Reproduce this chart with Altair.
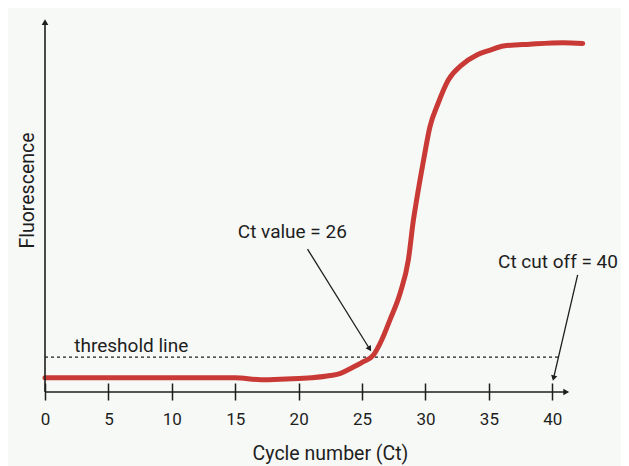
import math
import altair as alt
import pandas as pd

# ---- data ----
cycle = [0, 4, 8, 12, 15, 17, 19, 21, 22.5, 23.3, 24.05, 25.1, 25.9, 26.55, 27.2,
         28.0, 28.65, 29.05, 29.3, 29.85, 30.35, 31.0, 31.8, 32.85, 34.05, 35.1,
         36.15, 38.25, 40.85, 42.4]
fluor = [3.8, 3.8, 3.8, 3.8, 3.8, 3.3, 3.5, 3.8, 4.4, 5.0, 6.2, 8.1, 9.9, 13.9, 19.3,
         26.4, 35.3, 46.0, 51.3, 62.0, 70.9, 77.2, 83.4, 87.4, 90.1, 91.4,
         92.5, 93.0, 93.4, 93.2]
tick_values = [0, 5, 10, 15, 20, 25, 30, 35, 40]
threshold = 9.3

labels = ["Ct value = 26", "Ct cut off = 40", "threshold line"]
label_x = [19.5, 40.45, 6.8]
label_y = [42.8, 34.8, 12.3]

arrow_x1 = [20.7, 42.0]
arrow_y1 = [38.2, 31.3]
arrow_x2 = [25.6, 40.1]
arrow_y2 = [11.5, 3.7]

X_MAX = 42.5
Y_MAX = 100
W, H = 539, 374

xs = alt.Scale(domain=[0, X_MAX], nice=False, zero=False)
ys = alt.Scale(domain=[0, Y_MAX], nice=False, zero=False)

FONT = "Roboto"
INK = "#1e1e1e"

curve_df = pd.DataFrame({"cycle": cycle, "fluor": fluor})

curve = alt.Chart(curve_df).mark_line(color="#c93a36", strokeWidth=5, interpolate="monotone",
                                      strokeCap="round").encode(
    x=alt.X("cycle:Q", scale=xs,
            axis=alt.Axis(values=tick_values, domain=False, grid=False,
                          tickSize=17, tickWidth=1.5, tickColor=INK, offset=-9,
                          labelPadding=11, labelFontSize=17, labelFont=FONT,
                          labelColor=INK, labelFlush=False,
                          title="Cycle number (Ct)", titleFont=FONT, titleFontSize=19.5,
                          titleFontWeight="normal", titleColor=INK,
                          titleX=285, titleY=70, titleAlign="center",
                          titleBaseline="middle")),
    y=alt.Y("fluor:Q", scale=ys,
            axis=alt.Axis(domain=False, grid=False, ticks=False, labels=False,
                          title="Fluorescence", titleFont=FONT, titleFontSize=19.5,
                          titleFontWeight="normal", titleColor=INK,
                          titleX=-18, titleY=172, titleAlign="center",
                          titleBaseline="middle", titleAngle=270)),
)

# axes drawn as rules with arrowheads
axis_df = pd.DataFrame({"x1": [0, 0], "y1": [0, 0], "x2": [41.0, 0], "y2": [0, 98.5]})
axis_lines = alt.Chart(axis_df).mark_rule(color=INK, strokeWidth=1.6).encode(
    x=alt.X("x1:Q", scale=xs), y=alt.Y("y1:Q", scale=ys),
    x2="x2:Q", y2="y2:Q")

head_df = pd.DataFrame({"x": [41.1, 0], "y": [0, 98.9], "shape": ["triangle-right", "triangle-up"]})
axis_heads = alt.Chart(head_df).mark_point(filled=True, color=INK, size=45, opacity=1).encode(
    x=alt.X("x:Q", scale=xs), y=alt.Y("y:Q", scale=ys),
    shape=alt.Shape("shape:N", scale=None, legend=None))

thr_df = pd.DataFrame({"x1": [0], "x2": [40.6], "y": [threshold]})
thr_line = alt.Chart(thr_df).mark_rule(color=INK, strokeWidth=1.2, strokeDash=[3, 3]).encode(
    x=alt.X("x1:Q", scale=xs), x2="x2:Q", y=alt.Y("y:Q", scale=ys))

# annotation arrows
px_per_x = W / X_MAX
px_per_y = H / Y_MAX
angles = []
for a, b, c, d in zip(arrow_x1, arrow_y1, arrow_x2, arrow_y2):
    dx = (c - a) * px_per_x
    dy = -(d - b) * px_per_y
    angles.append(math.degrees(math.atan2(dx, -dy)) % 360)

arr_df = pd.DataFrame({"x1": arrow_x1, "y1": arrow_y1, "x2": arrow_x2, "y2": arrow_y2,
                       "angle": angles})
arr_lines = alt.Chart(arr_df).mark_rule(color=INK, strokeWidth=1.3).encode(
    x=alt.X("x1:Q", scale=xs), y=alt.Y("y1:Q", scale=ys), x2="x2:Q", y2="y2:Q")
arr_heads = alt.Chart(arr_df).mark_point(shape="triangle-up", filled=True, color=INK,
                                         size=40, opacity=1).encode(
    x=alt.X("x2:Q", scale=xs), y=alt.Y("y2:Q", scale=ys),
    angle=alt.Angle("angle:Q", scale=None))

lab_df = pd.DataFrame({"text": labels, "x": label_x, "y": label_y})
texts = alt.Chart(lab_df).mark_text(font=FONT, fontSize=19, color=INK,
                                    align="center", baseline="middle").encode(
    x=alt.X("x:Q", scale=xs), y=alt.Y("y:Q", scale=ys), text="text:N")

chart = alt.layer(thr_line, curve, axis_lines, axis_heads, arr_lines, arr_heads, texts).properties(
    width=W, height=H,
    autosize=alt.AutoSizeParams(type="none"),
    padding={"left": 37, "top": 10, "right": 37, "bottom": 74},
    background="#f7f9f6",
).configure_view(stroke=None)

chart.save("out.html", embed_options={"renderer": "svg", "actions": False})
